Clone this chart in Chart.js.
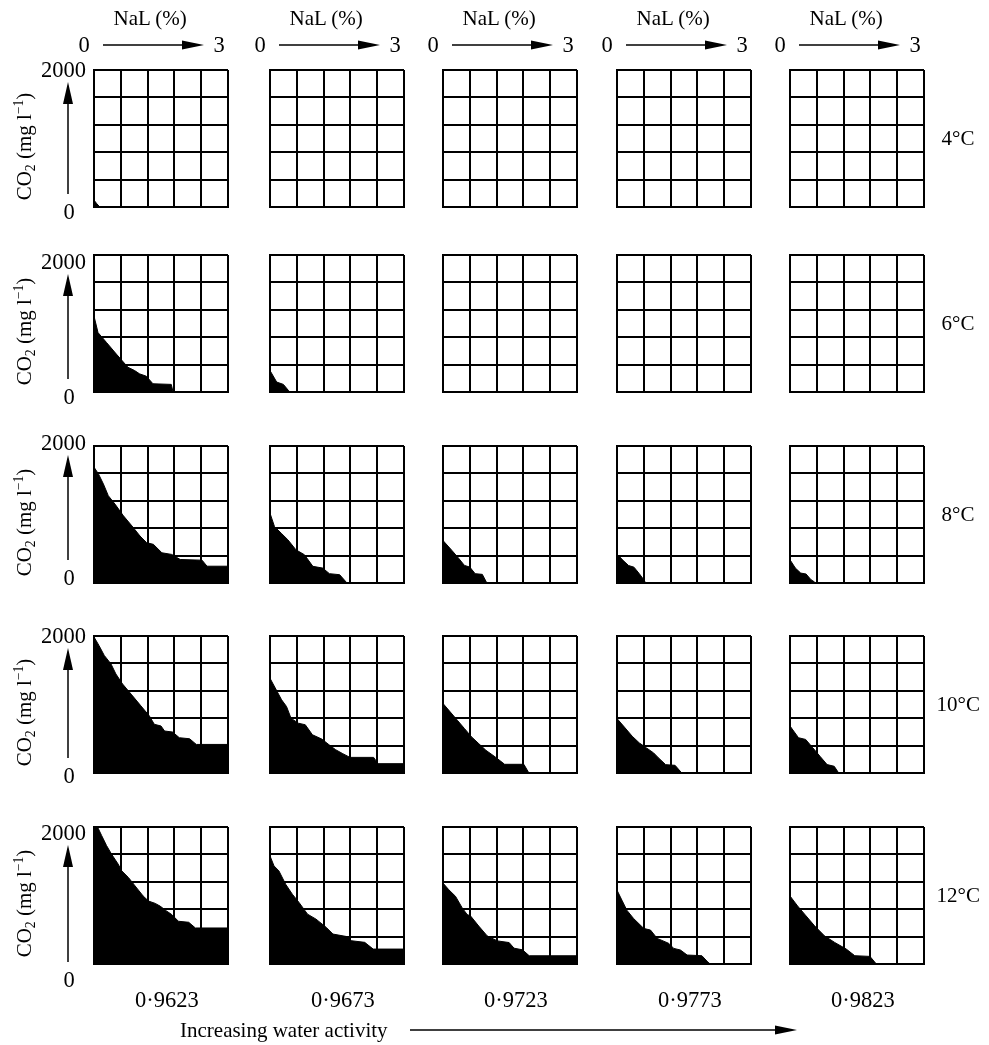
<!DOCTYPE html>
<html>
<head>
<meta charset="utf-8">
<script src="https://cdn.jsdelivr.net/npm/chart.js@4/dist/chart.umd.min.js"></script>
<style>
  body { margin: 0; background: #fff; }
  #page { position: relative; width: 989px; height: 1045px; background: #fff; overflow: hidden;
          font-family: 'Liberation Serif', 'Times New Roman', serif; color: #000; }
  .lbl { position: absolute; font-size: 21px; line-height: 1; white-space: nowrap; }
  .big { font-size: 22.5px; }
  .panel { position: absolute; }
  #arrows { position: absolute; left: 0; top: 0; pointer-events: none; }
  sub { font-size: 0.65em; vertical-align: -0.25em; line-height: 0; }
  sup { font-size: 0.65em; vertical-align: 0.6em; line-height: 0; }
</style>
</head>
<body>
<div id="page">
  <svg id="arrows" width="989" height="1045"></svg>
</div>
<script>
// water activity (columns) and temperature (rows)
var waterActivity = ['0\u00B79623', '0\u00B79673', '0\u00B79723', '0\u00B79773', '0\u00B79823'];
var temperatures = ['4\u00B0C', '6\u00B0C', '8\u00B0C', '10\u00B0C', '12\u00B0C'];

// each panel: boundary of the black area as [NaL %, CO2 mg/l]
var co2_4C = [
    [[0, 100], [0.06, 50], [0.13, 0]],
    [], [], [], []
];
var co2_6C = [
    [[0, 1108], [0.09, 867], [0.28, 723], [0.5, 554], [0.76, 361], [0.91, 313], [1.02, 265], [1.17, 231], [1.32, 120], [1.73, 111], [1.77, 0]],
    [[0, 313], [0.15, 145], [0.3, 111], [0.41, 24], [0.45, 0]],
    [], [], []
];
var co2_8C = [
    [[0, 1691], [0.1, 1593], [0.21, 1446], [0.32, 1275], [0.47, 1152], [0.66, 980], [0.85, 833], [1.03, 686], [1.18, 588], [1.33, 564], [1.52, 441], [1.74, 417], [1.93, 343], [2.42, 333], [2.53, 245], [3, 245]],
    [[0, 1019], [0.1, 825], [0.25, 728], [0.4, 631], [0.58, 485], [0.77, 413], [0.96, 243], [1.18, 218], [1.33, 136], [1.56, 121], [1.71, 10], [1.72, 0]],
    [[0, 620], [0.2, 475], [0.36, 353], [0.48, 257], [0.6, 232], [0.72, 136], [0.88, 126], [0.97, 15], [0.98, 0]],
    [[0, 423], [0.14, 327], [0.26, 255], [0.38, 231], [0.5, 135], [0.62, 29], [0.63, 0]],
    [[0, 339], [0.12, 218], [0.24, 145], [0.36, 131], [0.47, 48], [0.55, 15], [0.56, 0]]
];
var co2_10C = [
    [[0, 1985], [0.11, 1863], [0.23, 1716], [0.38, 1593], [0.49, 1446], [0.64, 1299], [0.83, 1152], [1.05, 980], [1.24, 833], [1.35, 711], [1.5, 686], [1.58, 613], [1.76, 598], [1.91, 515], [2.14, 500], [2.29, 417], [3, 417]],
    [[0, 1383], [0.16, 1189], [0.26, 1068], [0.37, 971], [0.47, 801], [0.63, 728], [0.79, 704], [0.95, 558], [1.16, 495], [1.32, 413], [1.47, 340], [1.63, 282], [1.79, 228], [2.32, 228], [2.42, 136], [3, 136]],
    [[0, 1015], [0.16, 893], [0.32, 771], [0.48, 649], [0.64, 527], [0.8, 429], [0.96, 332], [1.17, 234], [1.38, 127], [1.81, 127], [1.91, 15], [1.92, 0]],
    [[0, 795], [0.18, 659], [0.34, 537], [0.5, 439], [0.66, 366], [0.82, 293], [0.93, 220], [1.09, 122], [1.3, 112], [1.43, 15], [1.44, 0]],
    [[0, 686], [0.19, 515], [0.35, 490], [0.51, 368], [0.67, 245], [0.83, 123], [0.99, 98], [1.08, 10], [1.09, 0]]
];
var co2_12C = [
    [[0, 2000], [0.09, 1985], [0.17, 1877], [0.28, 1730], [0.39, 1607], [0.54, 1459], [0.62, 1361], [0.77, 1263], [0.92, 1140], [1.1, 993], [1.22, 919], [1.37, 885], [1.48, 845], [1.63, 771], [1.74, 722], [1.89, 624], [2.12, 609], [2.27, 526], [3, 526]],
    [[0, 1578], [0.09, 1432], [0.2, 1359], [0.35, 1165], [0.5, 1019], [0.65, 898], [0.84, 728], [1.03, 655], [1.26, 534], [1.41, 437], [1.74, 398], [1.82, 340], [2.12, 316], [2.31, 218], [3, 218]],
    [[0, 1181], [0.13, 1084], [0.28, 988], [0.43, 819], [0.54, 723], [0.62, 699], [0.8, 554], [0.99, 410], [1.22, 337], [1.48, 313], [1.59, 231], [1.78, 207], [1.93, 120], [3, 120]],
    [[0, 1078], [0.11, 932], [0.22, 786], [0.37, 665], [0.6, 519], [0.75, 495], [0.9, 374], [1.16, 301], [1.27, 228], [1.42, 204], [1.57, 131], [1.9, 121], [2.04, 24], [2.05, 0]],
    [[0, 993], [0.17, 847], [0.36, 702], [0.55, 557], [0.77, 412], [1.0, 315], [1.26, 218], [1.45, 121], [1.79, 111], [1.92, 10], [1.93, 0]]
];
var nalRange = [0, 3];
var co2Range = [0, 2000];

var rows = [co2_4C, co2_6C, co2_8C, co2_10C, co2_12C];

// layout
var colLeft = [94, 270, 443, 617, 790];
var rowTop = [70, 255, 446, 636, 827];
var panelW = 134, panelH = 137, pad = 2;

var page = document.getElementById('page');
var svg = document.getElementById('arrows');

function addLabel(html, x, y, align, cls) {
    var d = document.createElement('div');
    d.className = 'lbl' + (cls ? ' ' + cls : '');
    d.innerHTML = html;
    page.appendChild(d);
    var w = d.offsetWidth, h = d.offsetHeight;
    var left = align === 'left' ? x : (align === 'right' ? x - w : x - w / 2);
    d.style.left = left + 'px';
    d.style.top = (y - h / 2) + 'px';
    return d;
}

function line(x1, y1, x2, y2) {
    var l = document.createElementNS('http://www.w3.org/2000/svg', 'line');
    l.setAttribute('x1', x1); l.setAttribute('y1', y1);
    l.setAttribute('x2', x2); l.setAttribute('y2', y2);
    l.setAttribute('stroke', '#000');
    l.setAttribute('stroke-width', 1.5);
    svg.appendChild(l);
}
function head(pts) {
    var p = document.createElementNS('http://www.w3.org/2000/svg', 'polygon');
    p.setAttribute('points', pts.map(function (q) { return q.join(','); }).join(' '));
    p.setAttribute('fill', '#000');
    svg.appendChild(p);
}
function arrowRight(x1, x2, y) {
    line(x1, y, x2 - 18, y);
    head([[x2 - 22, y - 4.5], [x2, y], [x2 - 22, y + 4.5]]);
}
function arrowUp(x, y1, y2) {
    line(x, y1, x, y2 + 18);
    head([[x - 5, y2 + 22], [x, y2], [x + 5, y2 + 22]]);
}

function makePanel(r, c) {
    var holder = document.createElement('div');
    holder.className = 'panel';
    holder.style.left = (colLeft[c] - pad) + 'px';
    holder.style.top = (rowTop[r] - pad) + 'px';
    var canvas = document.createElement('canvas');
    canvas.width = panelW + 2 * pad;
    canvas.height = panelH + 2 * pad;
    holder.appendChild(canvas);
    page.insertBefore(holder, svg);

    var pts = rows[r][c];
    new Chart(canvas.getContext('2d'), {
        type: 'line',
        data: {
            datasets: [{
                data: pts.map(function (p) { return { x: p[0], y: p[1] }; }),
                fill: 'origin',
                backgroundColor: '#000',
                borderColor: '#000',
                borderWidth: 1,
                pointRadius: 0,
                tension: 0
            }]
        },
        options: {
            responsive: false,
            animation: false,
            devicePixelRatio: 1,
            layout: { padding: pad },
            plugins: { legend: { display: false }, tooltip: { enabled: false } },
            scales: {
                x: {
                    type: 'linear', min: nalRange[0], max: nalRange[1],
                    ticks: { display: false, stepSize: 0.6 },
                    grid: { color: '#000', lineWidth: 2, drawTicks: false },
                    border: { color: '#000', width: 2 }
                },
                y: {
                    type: 'linear', min: co2Range[0], max: co2Range[1],
                    ticks: { display: false, stepSize: 400 },
                    grid: { color: '#000', lineWidth: 2, drawTicks: false },
                    border: { color: '#000', width: 2 }
                }
            }
        }
    });
}

for (var r = 0; r < 5; r++) {
    for (var c = 0; c < 5; c++) {
        makePanel(r, c);
    }
}

// column headers
for (var c = 0; c < 5; c++) {
    var L = colLeft[c];
    addLabel('NaL (%)', L + 56, 18, 'center');
    addLabel('0', L - 10, 45, 'center', 'big');
    addLabel('3', L + 125, 45, 'center', 'big');
    arrowRight(L + 9, L + 110, 45);
    addLabel(waterActivity[c], L + panelW / 2 + 6, 1000, 'center', 'big');
}

// row labels
var zeroY = [212, 397, 578, 776, 980];
var topY = [70, 262, 443, 636, 833];
for (var r = 0; r < 5; r++) {
    var T = rowTop[r];
    addLabel('2000', 86, topY[r], 'right', 'big');
    addLabel('0', 69, zeroY[r], 'center', 'big');
    arrowUp(68, zeroY[r] - 18, topY[r] + 12);
    var yl = addLabel('CO<sub>2</sub> (mg l<sup>\u22121</sup>)', 25, T + panelH / 2 + 8, 'center');
    yl.style.transform = 'rotate(-90deg)';
    addLabel(temperatures[r], 958, T + panelH / 2, 'center');
}

// bottom caption
addLabel('Increasing water activity', 180, 1030, 'left');
arrowRight(410, 797, 1030);
</script>
</body>
</html>
